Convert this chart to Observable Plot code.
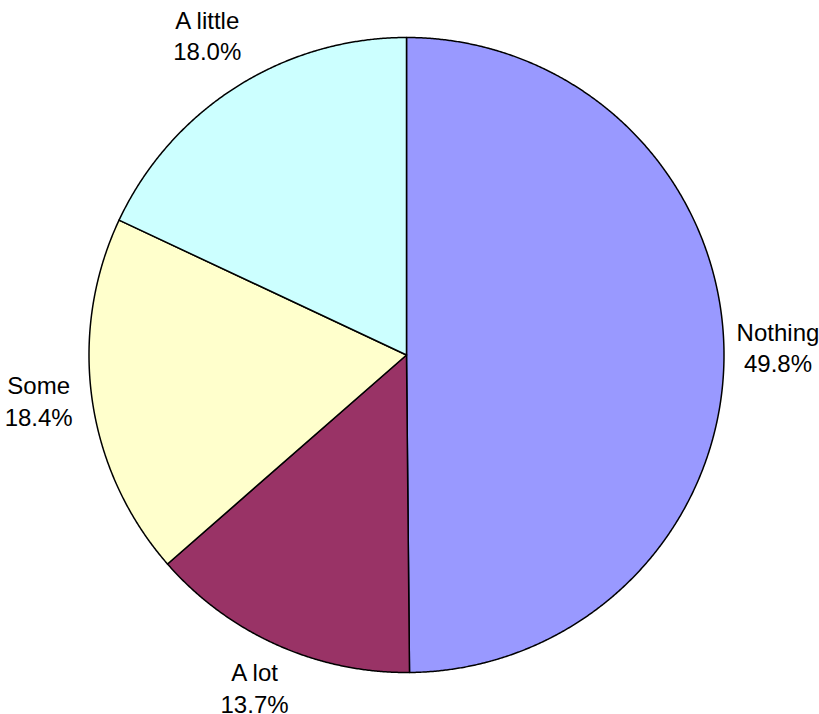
<!DOCTYPE html>
<html>
<head>
<meta charset="utf-8">
<script src="https://cdn.jsdelivr.net/npm/d3@7"></script>
<script src="https://cdn.jsdelivr.net/npm/@observablehq/plot@0.6"></script>
<style>
  html, body { margin: 0; padding: 0; background: #fff; }
  #chart { width: 819px; height: 714px; }
</style>
</head>
<body>
<div id="chart"></div>
<script>
const categories = ["Nothing", "A lot", "Some", "A little"];
const values = [49.8, 13.7, 18.4, 18.0];
const colors = ["#9999FF", "#993366", "#FFFFCC", "#CCFFFF"];

const data = categories.map((c, i) => ({category: c, value: values[i], color: colors[i]}));
const arcs = d3.pie().sort(null).value(d => d.value)(data);

// polygon outline for each slice (unit radius, y up)
function slicePath(a) {
  const pts = [{x: 0, y: 0}];
  const n = Math.max(2, Math.ceil((a.endAngle - a.startAngle) / (Math.PI / 720)));
  for (let k = 0; k <= n; k++) {
    const t = a.startAngle + (a.endAngle - a.startAngle) * k / n;
    pts.push({x: Math.sin(t), y: Math.cos(t)});
  }
  return pts;
}

const labelR = 1.17;
const labels = arcs.map(a => {
  const m = (a.startAngle + a.endAngle) / 2;
  return {x: labelR * Math.sin(m), y: labelR * Math.cos(m),
          text: a.data.category + "\n" + a.data.value.toFixed(1) + "%"};
});

const chart = Plot.plot({
  width: 819,
  height: 714,
  marginLeft: 88.5,
  marginRight: 95.5,
  marginTop: 37,
  marginBottom: 42,
  x: {domain: [-1, 1], axis: null},
  y: {domain: [-1, 1], axis: null},
  style: {fontFamily: "'Liberation Sans', Arial, sans-serif", background: "#fff"},
  marks: [
    ...arcs.map(a => Plot.line(slicePath(a), {
      x: "x", y: "y", curve: "linear-closed",
      fill: a.data.color, stroke: "#000", strokeWidth: 1.5, strokeLinejoin: "round"
    })),
    Plot.text(labels, {
      x: "x", y: "y", text: "text", fontSize: 24, lineHeight: 1.32, dy: -7,
      fill: "#000", textAnchor: "middle", lineAnchor: "middle"
    })
  ]
});
document.getElementById("chart").appendChild(chart);
</script>
</body>
</html>
